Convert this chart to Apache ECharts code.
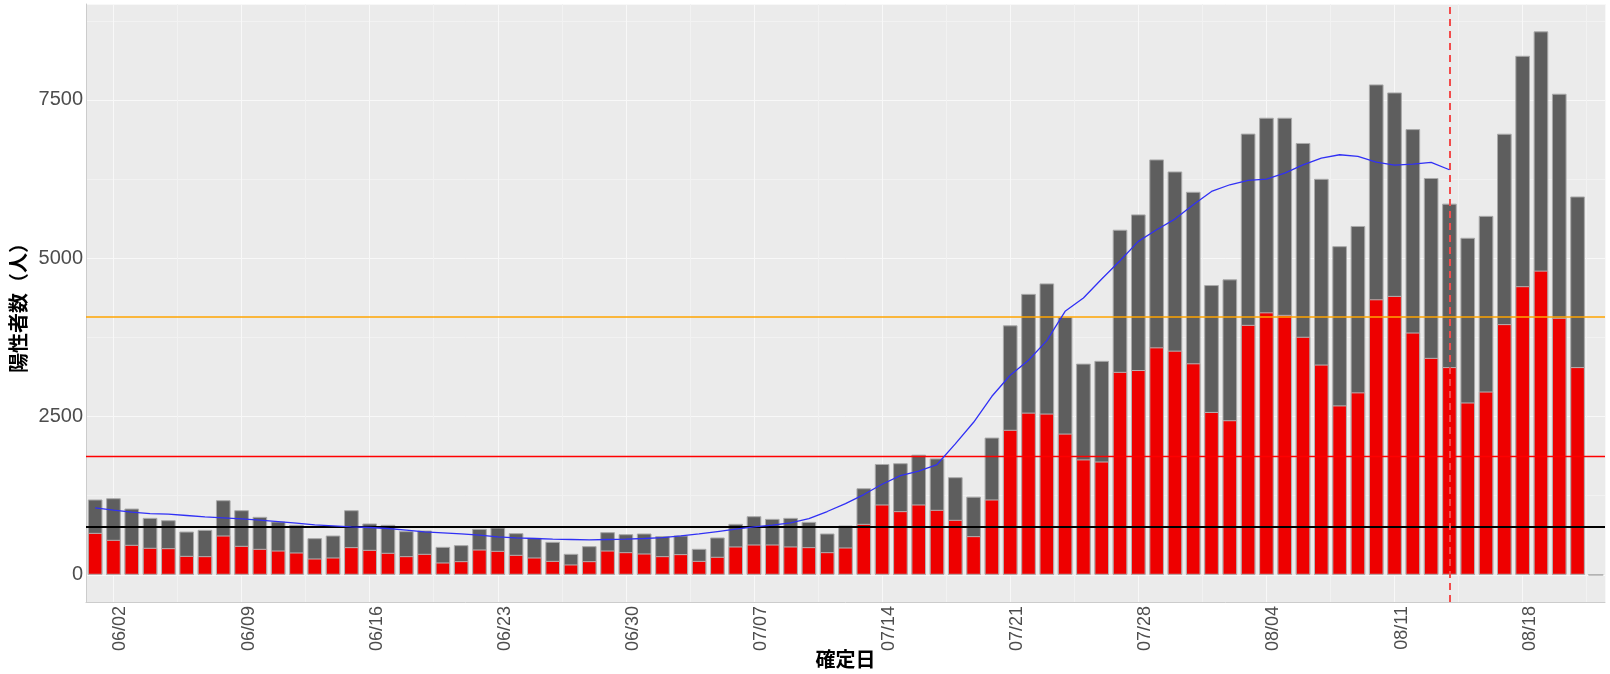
<!DOCTYPE html>
<html>
<head>
<meta charset="utf-8">
<script src="https://cdn.jsdelivr.net/npm/echarts@6/dist/echarts.min.js"></script>
<style>
  html, body { margin: 0; padding: 0; background: #fff; }
  #charts { width: 1610px; height: 674px; }
</style>
</head>
<body>
<div id="charts"></div>
<script>
// 確定日 06/01 - 08/22
var dates = [];
(function () {
  var monthDays = [[6, 30], [7, 31], [8, 22]];
  monthDays.forEach(function (m) {
    for (var d = 1; d <= m[1]; d++) {
      dates.push((m[0] < 10 ? '0' : '') + m[0] + '/' + (d < 10 ? '0' : '') + d);
    }
  });
})();

// 陽性者数（全体）
var totalCases = [
  1189, 1209, 1046, 899, 862, 683, 710, 1178, 1020, 915,
  841, 789, 578, 620, 1020, 810, 789, 689, 699, 441,
  468, 725, 746, 657, 583, 520, 331, 452, 673, 641,
  652, 610, 620, 410, 589, 804, 925, 883, 899, 836,
  652, 778, 1367, 1750, 1762, 1897, 1838, 1541, 1234, 2167,
  3940, 4437, 4602, 4071, 3335, 3379, 5450, 5692, 6560, 6370,
  6049, 4576, 4666, 6968, 7219, 7219, 6820, 6254, 5190, 5509,
  7745, 7618, 7039, 6267, 5862, 5323, 5669, 6966, 8197, 8583,
  7598, 5975, 0
];

// 陽性者数（赤）
var redCases = [
  662, 552, 473, 426, 420, 299, 294, 620, 457, 410,
  383, 352, 257, 273, 436, 394, 347, 294, 331, 194,
  215, 399, 378, 315, 273, 220, 163, 215, 383, 357,
  336, 294, 326, 220, 284, 447, 478, 478, 447, 436,
  357, 431, 804, 1110, 1005, 1110, 1026, 868, 610, 1189,
  2290, 2561, 2546, 2230, 1822, 1789, 3205, 3234, 3592, 3540,
  3340, 2572, 2441, 3947, 4145, 4105, 3759, 3320, 2675, 2881,
  4351, 4405, 3826, 3426, 3280, 2721, 2894, 3959, 4558, 4804,
  4059, 3280, 0
];

// 7日移動平均（青線）
var avgLine = [
  1057, 1020, 988, 967, 957, 936, 915, 899, 883, 862,
  841, 815, 789, 773, 757, 747, 731, 704, 678, 662,
  647, 626, 599, 583, 573, 562, 557, 552, 557, 562,
  573, 588, 615, 647, 683, 720, 757, 783, 820, 888,
  999, 1125, 1267, 1430, 1567, 1636, 1741, 2067, 2409, 2819,
  3151, 3388, 3698, 4161, 4371, 4671, 4960, 5266, 5450, 5618,
  5844, 6055, 6160, 6228, 6249, 6344, 6475, 6581, 6634, 6608,
  6518, 6471, 6487, 6513, 6397, null, null, null, null, null,
  null, null, null
];

// 基準線
var blackLevel = 752;
var redLevel = 1878;
var orangeLevel = 4072;
var markDate = '08/14';

var yMin = -430, yMax = 9015;

var myChart = echarts.init(document.getElementById('charts'));

var labelEvery7 = function (idx) { return (idx - 1) % 7 === 0; };

var option = {
  animation: false,
  grid: {
    left: 86, right: 5, top: 4, bottom: 72,
    outerBoundsMode: 'none',
    containLabel: false,
    show: true, backgroundColor: '#EBEBEB', borderWidth: 0
  },
  xAxis: [{
    type: 'category',
    data: dates,
    boundaryGap: true,
    name: '確定日',
    nameLocation: 'middle',
    nameGap: 47,
    nameMoveOverlap: false,
    nameTextStyle: { fontSize: 20, fontWeight: 'bold', color: '#000', fontFamily: 'Noto Sans CJK JP', verticalAlign: 'top' },
    axisLine: { show: true, onZero: false, lineStyle: { color: '#CCCCCC', width: 1 } },
    axisTick: { show: false },
    axisLabel: {
      interval: labelEvery7,
      rotate: 90,
      margin: 4,
      fontSize: 18,
      lineHeight: 14,
      verticalAlign: 'top',
      color: '#4D4D4D',
      fontFamily: 'Liberation Sans'
    },
    splitLine: { show: false }
  }, {
    // 縦のグリッド線用（非表示軸）
    type: 'value',
    position: 'bottom',
    min: -1.5,
    max: 81.5,
    minInterval: 3.5,
    maxInterval: 3.5,
    axisLine: { show: false, onZero: false },
    axisTick: { show: false },
    axisLabel: { show: false },
    splitLine: { show: true, lineStyle: { color: ['#F2F2F2', '#F8F8F8'], width: 1 } }
  }],
  yAxis: {
    type: 'value',
    min: yMin,
    max: yMax,
    minInterval: 1250,
    maxInterval: 1250,
    name: '陽性者数（人）',
    nameLocation: 'middle',
    nameRotate: 90,
    nameGap: 58,
    nameMoveOverlap: false,
    nameTextStyle: { fontSize: 20, fontWeight: 'bold', color: '#000', fontFamily: 'Noto Sans CJK JP' },
    axisLine: { show: true, onZero: false, lineStyle: { color: '#CCCCCC', width: 1 } },
    axisTick: { show: false },
    axisLabel: {
      margin: 3,
      fontSize: 20,
      color: '#4D4D4D',
      fontFamily: 'Liberation Sans',
      formatter: function (v) { return v % 2500 === 0 ? String(v) : ''; }
    },
    splitLine: { show: true, lineStyle: { color: ['#F2F2F2', '#F8F8F8'], width: 1 } }
  },
  series: [{
    name: 'total',
    type: 'bar',
    data: totalCases,
    barWidth: '80%',
    barGap: '-100%',
    itemStyle: { color: '#5E5E5E', borderColor: '#A9A9A9', borderWidth: 1 }
  }, {
    name: 'red',
    type: 'bar',
    data: redCases,
    barWidth: '80%',
    barGap: '-100%',
    itemStyle: { color: '#EE0000', borderColor: '#B5B5B5', borderWidth: 1 }
  }, {
    name: 'avg',
    type: 'line',
    data: avgLine,
    symbol: 'none',
    z: 5,
    lineStyle: { color: '#3030F5', width: 1.3 },
    markLine: {
      silent: true,
      symbol: 'none',
      label: { show: false },
      data: [
        { yAxis: blackLevel, lineStyle: { color: '#000000', width: 2, type: 'solid' } },
        { yAxis: redLevel, lineStyle: { color: '#FF0000', width: 1.3, type: 'solid' } },
        { yAxis: orangeLevel, lineStyle: { color: '#FFA500', width: 1.6, type: 'solid' } },
        { xAxis: markDate, lineStyle: { color: '#F24B4B', width: 2, type: [7, 5] } }
      ]
    }
  }]
};

myChart.setOption(option);
window.addEventListener('resize', function () {
  myChart.resize();
});
</script>
</body>
</html>
